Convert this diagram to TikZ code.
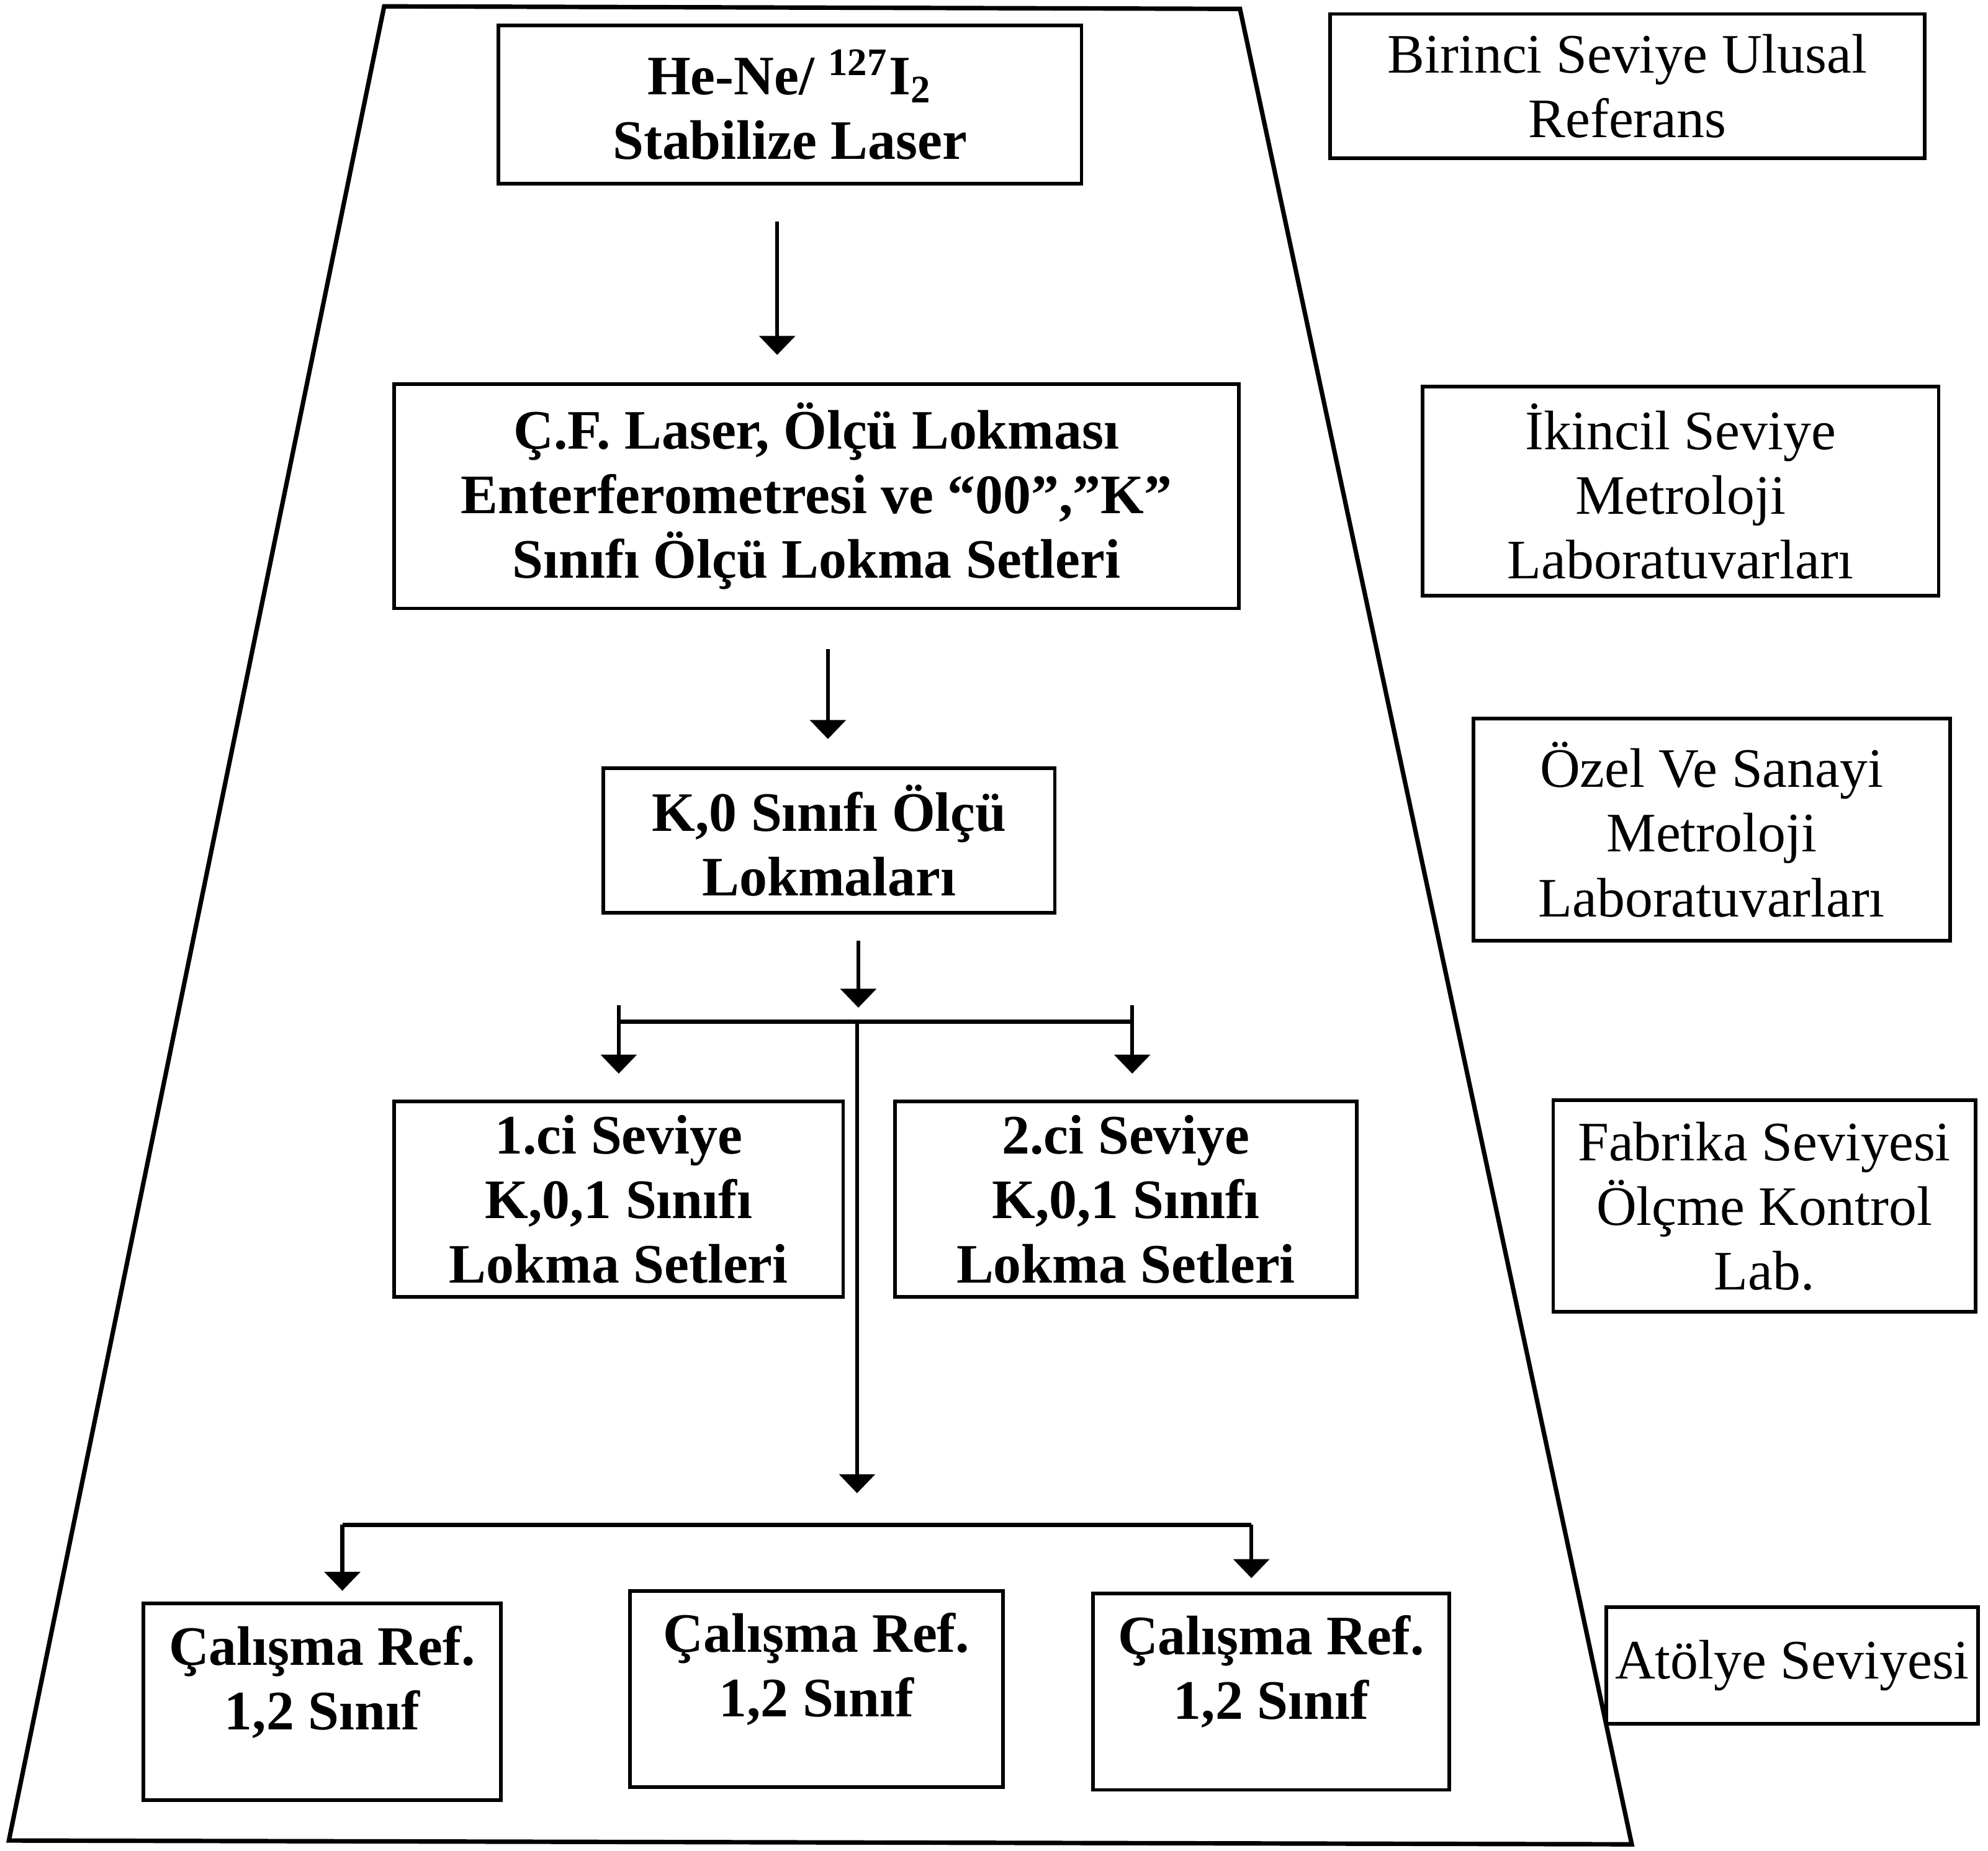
\documentclass[tikz,border=0pt]{standalone}
\usepackage{fontspec}
\setmainfont{Liberation Serif}
\usetikzlibrary{arrows.meta}

\begin{document}
\begin{tikzpicture}[
  block/.style={draw, line width=0.8pt, align=center, inner sep=2pt,
    font=\fontsize{12.5}{14.5}\selectfont\bfseries},
  workbox/.style={block, minimum height=1.55cm, text depth=0.38cm},
  level/.style={draw, line width=0.8pt, align=center, inner sep=2pt,
    font=\fontsize{12.5}{14.5}\selectfont},
  arr/.style={-{Triangle[length=1.5mm, width=2.8mm]}, line width=0.9pt},
  bar/.style={line width=1pt}
]
  \useasboundingbox (0,0) rectangle (15.68,-14.60);

  % Outer trapezoid
  \draw[line width=1pt] (3.03,-0.05) -- (9.78,-0.07) -- (12.87,-14.55) -- (0.07,-14.52) -- cycle;

  \node[block, minimum width=4.60cm, minimum height=1.25cm] (laser) at (6.23,-0.825) {He-Ne/ \textsuperscript{127}I\textsubscript{2}\\Stabilize Laser};
  \node[block, minimum width=6.66cm, minimum height=1.77cm] (cf) at (6.44,-3.915) {Ç.F. Laser, Ölçü Lokması\\Enterferometresi ve “00”,”K”\\Sınıfı Ölçü Lokma Setleri};
  \node[block, minimum width=3.56cm, minimum height=1.14cm] (kzero) at (6.54,-6.63) {K,0 Sınıfı Ölçü\\Lokmaları};
  \node[block, minimum width=3.54cm, minimum height=1.54cm] (first) at (4.88,-9.46) {1.ci Seviye\\K,0,1 Sınıfı\\Lokma Setleri};
  \node[block, minimum width=3.64cm, minimum height=1.54cm] (second) at (8.88,-9.46) {2.ci Seviye\\K,0,1 Sınıfı\\Lokma Setleri};
  \node[workbox, minimum width=2.82cm] (workA) at (2.54,-13.425) {Çalışma Ref.\\1,2 Sınıf};
  \node[workbox, minimum width=2.94cm] (workB) at (6.44,-13.325) {Çalışma Ref.\\1,2 Sınıf};
  \node[workbox, minimum width=2.81cm] (workC) at (10.025,-13.345) {Çalışma Ref.\\1,2 Sınıf};

  % Levels on the right
  \node[level, minimum width=4.69cm, minimum height=1.14cm] (lvlA) at (12.835,-0.68) {Birinci Seviye Ulusal\\Referans};
  \node[level, minimum width=4.07cm, minimum height=1.65cm] (lvlB) at (13.255,-3.875) {İkincil Seviye\\Metroloji\\Laboratuvarları};
  \node[level, minimum width=3.76cm, minimum height=1.75cm] (lvlC) at (13.50,-6.545) {Özel Ve Sanayi\\Metroloji\\Laboratuvarları};
  \node[level, minimum width=3.33cm, minimum height=1.67cm] (lvlD) at (13.915,-9.515) {Fabrika Seviyesi\\Ölçme Kontrol\\Lab.};
  \node[level, minimum width=2.93cm, minimum height=0.92cm] (lvlE) at (14.135,-13.14) {Atölye Seviyesi};

  \coordinate (tailA) at (6.13,-1.75);
  \coordinate (headA) at (6.13,-2.80);
  \coordinate (tailB) at (6.53,-5.12);
  \coordinate (headB) at (6.53,-5.83);
  \coordinate (tailC) at (6.77,-7.42);
  \coordinate (headC) at (6.77,-7.95);
  \coordinate (splitL) at (4.88,-8.06);
  \coordinate (splitM) at (6.76,-8.06);
  \coordinate (splitR) at (8.93,-8.06);
  \coordinate (headD) at (6.76,-11.78);
  \coordinate (joinL) at (2.70,-12.03);
  \coordinate (joinR) at (9.87,-12.03);

  \draw[arr] (tailA) -- (headA);
  \draw[arr] (tailB) -- (headB);
  \draw[arr] (tailC) -- (headC);

  % first split
  \draw[bar] (splitL) -- (splitR);
  \draw[arr] ([yshift=1.3mm]splitL) -- ++(0,-0.54);
  \draw[arr] ([yshift=1.3mm]splitR) -- ++(0,-0.54);
  \draw[arr] (splitM) -- (headD);

  % second split
  \draw[bar] (joinL) -- (joinR);
  \draw[arr] (joinL) -- ++(0,-0.52);
  \draw[arr] (joinR) -- ++(0,-0.42);
\end{tikzpicture}
\end{document}
